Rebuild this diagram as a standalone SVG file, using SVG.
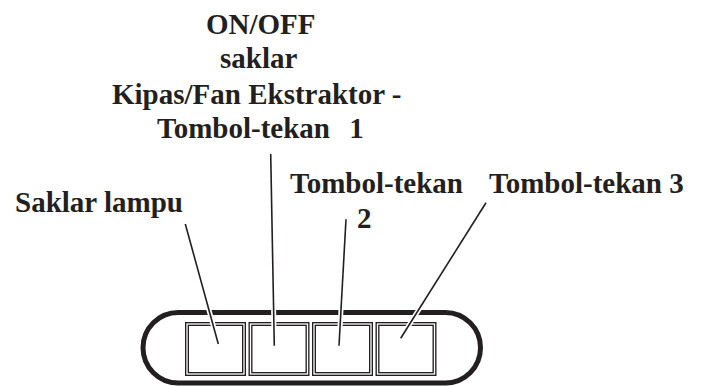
<svg xmlns="http://www.w3.org/2000/svg" width="704" height="386" viewBox="0 0 704 386">
<style>
.t{font-family:'Liberation Serif',Tinos,'Times New Roman',Times,'DejaVu Serif',serif;font-weight:700;font-size:29px;fill:#231f20}
.pill{fill:none;stroke:#231f20;stroke-width:5}
.btnO{fill:none;stroke:#231f20;stroke-width:4}
.btnI{fill:none;stroke:#fff;stroke-width:1.3}
.halo{stroke:#fff;stroke-width:5;fill:none}
.lead{stroke:#231f20;stroke-width:1.6;fill:none}
</style>
<rect width="704" height="386" fill="#fff"/>
<g id="panel">
<rect class="pill" x="143" y="312.5" width="337.5" height="70.5" rx="35.25" ry="35.25"/>
</g>
<g id="btn-lampu"><rect class="btnO" x="187" y="324" width="57" height="50"/><rect class="btnI" x="187" y="324" width="57" height="50"/></g>
<g id="btn-1"><rect class="btnO" x="250.5" y="324" width="57" height="50"/><rect class="btnI" x="250.5" y="324" width="57" height="50"/></g>
<g id="btn-2"><rect class="btnO" x="314" y="324" width="57" height="50"/><rect class="btnI" x="314" y="324" width="57" height="50"/></g>
<g id="btn-3"><rect class="btnO" x="377.5" y="324" width="57" height="50"/><rect class="btnI" x="377.5" y="324" width="57" height="50"/></g>
<g id="label-lampu"><text class="t" font-family="Liberation Serif, serif" x="15" y="211.5">Saklar lampu</text></g>
<g id="label-1">
<text class="t" font-family="Liberation Serif, serif" x="206" y="33.5">ON/OFF</text>
<text class="t" font-family="Liberation Serif, serif" x="220" y="67.5">saklar</text>
<text class="t" font-family="Liberation Serif, serif" x="112" y="104">Kipas/Fan Ekstraktor -</text>
<text class="t" font-family="Liberation Serif, serif" x="157" y="138" word-spacing="12">Tombol-tekan 1</text>
</g>
<g id="label-2"><text class="t" font-family="Liberation Serif, serif" x="290" y="193">Tombol-tekan</text><text class="t" font-family="Liberation Serif, serif" x="357" y="228">2</text></g>
<g id="label-3"><text class="t" font-family="Liberation Serif, serif" x="489" y="193">Tombol-tekan 3</text></g>
<g id="connectors">
<line class="halo" x1="207.3" y1="304" x2="213.9" y2="328"/>
<line class="halo" x1="273.5" y1="304" x2="273.9" y2="328"/>
<line class="halo" x1="341.3" y1="304" x2="340" y2="328"/>
<line class="halo" x1="422.3" y1="304" x2="407.2" y2="328"/>
<line class="lead" x1="185.3" y1="224" x2="218.3" y2="344"/>
<line class="lead" x1="270.7" y1="154" x2="274.3" y2="345.7"/>
<line class="lead" x1="346" y1="219.3" x2="339" y2="345.7"/>
<line class="lead" x1="486" y1="202.7" x2="400.7" y2="338.3"/>
</g>
</svg>
